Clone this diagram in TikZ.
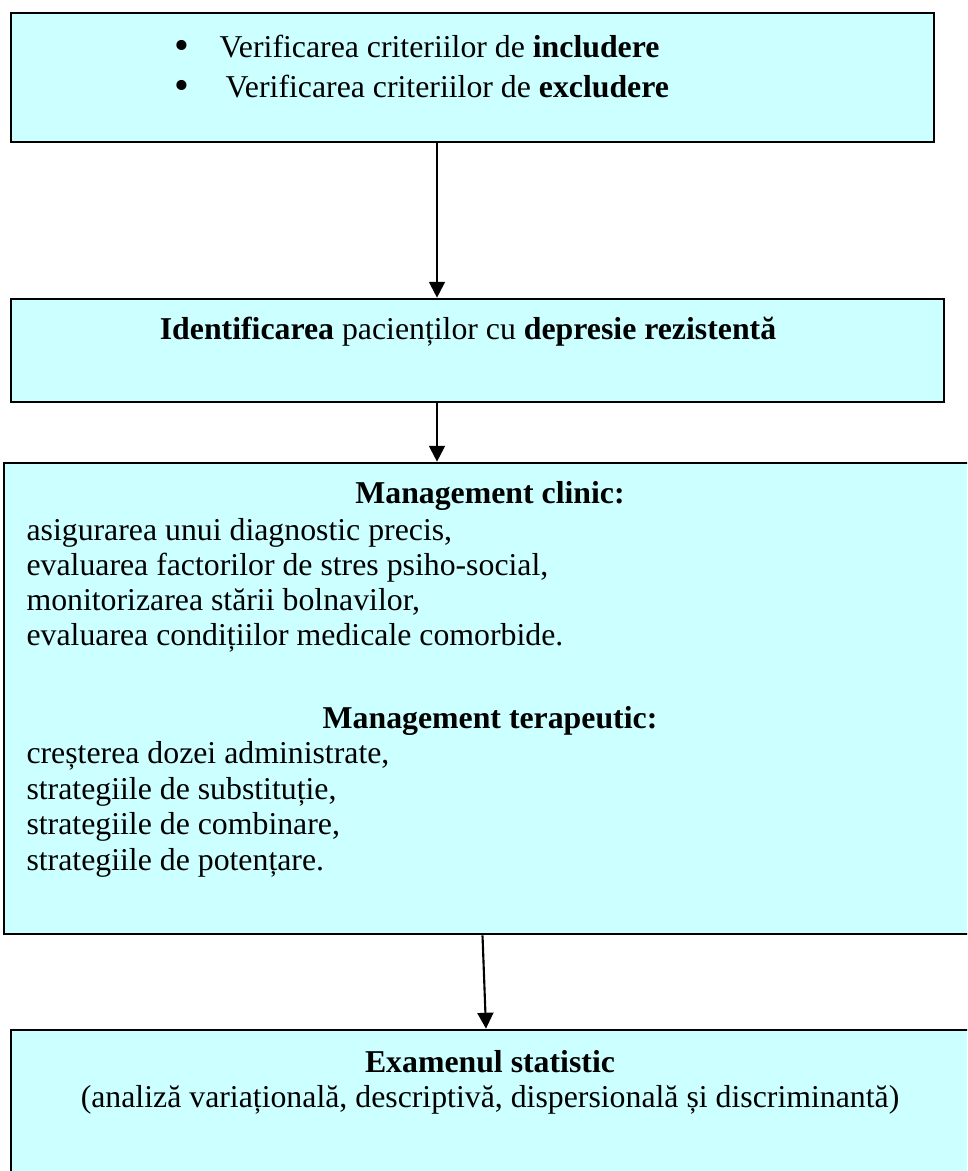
\documentclass[tikz,border=0pt]{standalone}
\usepackage{fontspec}
\setmainfont{Liberation Serif}
\usetikzlibrary{arrows.meta,fit}
\definecolor{boxcyan}{RGB}{204,255,255}

\begin{document}
\begin{tikzpicture}[
    x = 0.3774pt, y = -0.3774pt,
    font = \fontsize{12}{13.4}\selectfont,
    box/.style = {draw, line width = 1pt, fill = boxcyan, inner sep = 0pt},
    line/.style = {inner sep = 0pt, anchor = base west},
    dot/.style = {inner sep = 0pt, anchor = base, font = \fontsize{16}{13.4}\selectfont},
    title/.style = {inner sep = 0pt, anchor = base,
      font = \fontsize{12}{13.4}\selectfont\bfseries},
    flow/.style = {line width = .8pt,
      -{Triangle[length = 6pt, width = 6pt]}}
  ]
  \useasboundingbox (0,0) rectangle (967,1171);
  \clip (0,0) rectangle (967,1171);

  % The four boxes
  \node[box, fit = {(11,13) (934,142)}]    (crit)  {};
  \node[box, fit = {(11,299) (944,402)}]   (ident) {};
  \node[box, fit = {(4,463) (990,934)}]    (mgmt)  {};
  \node[box, fit = {(11,1030) (990,1190)}] (stat)  {};

  % Criteria
  \node[dot]  (incl-dot) at (182,59) {•};
  \node[line] (incl)     at (219,57) {Verificarea criteriilor de \textbf{includere}};
  \node[dot]  (excl-dot) at (182,99) {•};
  \node[line] (excl)     at (225,97) {Verificarea criteriilor de \textbf{excludere}};

  % Patients
  \node[line, anchor = base] (ident-txt) at (468,339)
    {\textbf{Identificarea} pacienților cu \textbf{depresie rezistentă}};

  % Clinical and therapeutic management
  \node[title] (clin) at (490,503) {Management clinic:};
  \foreach \txt [count = \i] in {{asigurarea unui diagnostic precis,},
      {evaluarea factorilor de stres psiho-social,},
      {monitorizarea stării bolnavilor,},
      {evaluarea condițiilor medicale comorbide.}}
    \node[line] (clin-\i) at (26,{505 + 35*\i}) {\txt};

  \node[title] (ther) at (490,728) {Management terapeutic:};
  \foreach \txt [count = \i] in {{creșterea dozei administrate,},
      {strategiile de substituție,},
      {strategiile de combinare,},
      {strategiile de potențare.}}
    \node[line] (ther-\i) at (26,{728 + 35.5*\i}) {\txt};

  % Statistics
  \node[title] (stat-head) at (490,1072) {Examenul statistic};
  \node[line, anchor = base] (stat-txt) at (490,1107)
    {(analiză variațională, descriptivă, dispersională și discriminantă)};

  % The arrows
  \draw[flow] (crit.south -| 437,0)    -- (ident.north -| 437,0);
  \draw[flow] (ident.south -| 437,0)   -- (mgmt.north -| 437,0);
  \draw[flow] (mgmt.south -| 482.5,0)  -- (stat.north -| 486,0);
\end{tikzpicture}
\end{document}
